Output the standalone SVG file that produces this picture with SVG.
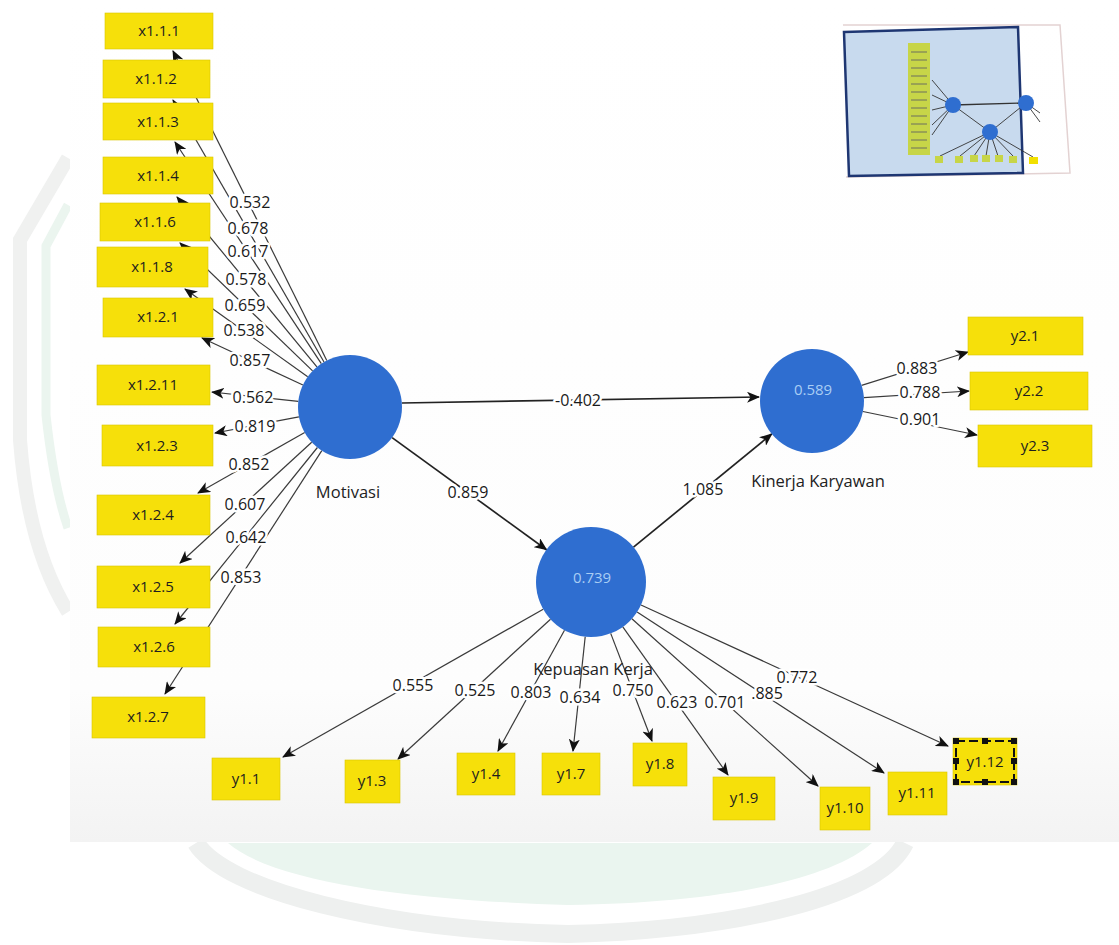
<svg xmlns="http://www.w3.org/2000/svg" width="1119" height="945" viewBox="0 0 1119 945">
<style>
.box{fill:#f6e00a;stroke:#d9c500;stroke-width:0.6}
.bt{font-family:"Open Sans","Noto Sans",sans-serif;font-size:15px;fill:#1e1e1e;text-anchor:middle}
.lat{fill:#2f6ed0}
.lv{font-family:"Open Sans","Noto Sans",sans-serif;font-size:15px;fill:#a9cdf4;text-anchor:middle}
.nl{font-family:"Open Sans","Noto Sans",sans-serif;font-size:16.5px;fill:#222;text-anchor:middle}
.ln{stroke:#3a3a3a;stroke-width:1.2;fill:none}
.lp{stroke:#222;stroke-width:1.7;fill:none}
.pl{font-family:"Open Sans","Noto Sans",sans-serif;font-size:16px;fill:#1a1a1a;text-anchor:middle;stroke:#fff;stroke-width:5px;paint-order:stroke;stroke-linejoin:round}
</style>
<defs>
<marker id="ah" markerWidth="13" markerHeight="11" refX="12" refY="5.5" orient="auto" markerUnits="userSpaceOnUse">
<path d="M0,0 L13,5.5 L0,11 L3.5,5.5 Z" fill="#111"/>
</marker>
<linearGradient id="scan" x1="0" y1="0" x2="0" y2="1">
<stop offset="0" stop-color="#ffffff"/>
<stop offset="0.82" stop-color="#fdfdfd"/>
<stop offset="1" stop-color="#f3f3f3"/>
</linearGradient>
</defs>
<rect x="0" y="0" width="1119" height="945" fill="#ffffff"/>
<g id="watermark">
<path d="M228,843 C270,880 400,900 568,905 C720,903 830,880 872,843 Z" fill="#eaf5ef"/>
<path d="M196,843 C225,890 380,930 568,934 C740,930 880,895 905,843" fill="none" stroke="#eef0ef" stroke-width="18"/>
<path d="M68,158 L20,240 L20,440 C26,520 45,575 68,612" fill="none" stroke="#f0f1f0" stroke-width="14"/>
<path d="M68,205 L46,246 L46,415 C52,470 60,505 68,528" fill="none" stroke="#ebf5ef" stroke-width="9"/>
</g>
<rect x="70" y="0" width="1049" height="842" fill="url(#scan)"/>
<g id="overview">
<path d="M843,25 L1060,25 L1070,173 L846,177" fill="none" stroke="#e3d2d2" stroke-width="1.5"/>
<path d="M844,32 L1018,27 L1023,173 L849,176 Z" fill="#c8daee" stroke="#1e3672" stroke-width="2.5"/>
<rect x="908" y="43" width="22" height="112" fill="#c7d548"/>
<g stroke="#556" stroke-width="0.8">
<line x1="911" y1="52" x2="927" y2="52"/><line x1="911" y1="60" x2="927" y2="60"/><line x1="911" y1="68" x2="927" y2="68"/><line x1="911" y1="76" x2="927" y2="76"/><line x1="911" y1="84" x2="927" y2="84"/><line x1="911" y1="92" x2="927" y2="92"/><line x1="911" y1="100" x2="927" y2="100"/><line x1="911" y1="108" x2="927" y2="108"/><line x1="911" y1="116" x2="927" y2="116"/><line x1="911" y1="124" x2="927" y2="124"/><line x1="911" y1="132" x2="927" y2="132"/><line x1="911" y1="140" x2="927" y2="140"/><line x1="911" y1="148" x2="927" y2="148"/>
</g>
<g stroke="#333" stroke-width="0.9">
<line x1="953" y1="105" x2="932" y2="80"/><line x1="953" y1="105" x2="932" y2="95"/><line x1="953" y1="105" x2="932" y2="110"/><line x1="953" y1="105" x2="932" y2="125"/><line x1="953" y1="105" x2="932" y2="135"/>
<line x1="953" y1="105" x2="1026" y2="103" stroke-width="1.3"/><line x1="953" y1="105" x2="990" y2="132"/><line x1="990" y1="132" x2="1026" y2="103"/>
<line x1="990" y1="132" x2="940" y2="156"/><line x1="990" y1="132" x2="960" y2="156"/><line x1="990" y1="132" x2="974" y2="156"/><line x1="990" y1="132" x2="986" y2="156"/><line x1="990" y1="132" x2="998" y2="156"/><line x1="990" y1="132" x2="1013" y2="156"/><line x1="990" y1="132" x2="1033" y2="157"/>
<line x1="1026" y1="103" x2="1040" y2="113"/><line x1="1026" y1="103" x2="1040" y2="122"/>
</g>
<g fill="#c7d548"><rect x="935" y="156" width="8" height="7"/><rect x="955" y="156" width="8" height="7"/><rect x="970" y="155" width="8" height="7"/><rect x="982" y="155" width="8" height="7"/><rect x="995" y="155" width="8" height="7"/><rect x="1009" y="156" width="8" height="7"/></g>
<rect x="1029" y="157" width="9" height="7" fill="#f2e000"/>
<circle cx="953" cy="105" r="8" fill="#2f6ed0"/><circle cx="1026" cy="103" r="8" fill="#2f6ed0"/><circle cx="990" cy="132" r="8" fill="#2f6ed0"/>
</g>
<g id="connectors">
<line class="ln" x1="326.8" y1="360.4" x2="173" y2="51" marker-end="url(#ah)"/>
<line class="ln" x1="324.0" y1="362.0" x2="173" y2="100" marker-end="url(#ah)"/>
<line class="ln" x1="321.3" y1="363.6" x2="175" y2="142" marker-end="url(#ah)"/>
<line class="ln" x1="316.9" y1="366.9" x2="177" y2="197" marker-end="url(#ah)"/>
<line class="ln" x1="312.6" y1="370.9" x2="180" y2="243" marker-end="url(#ah)"/>
<line class="ln" x1="307.7" y1="376.8" x2="185" y2="289" marker-end="url(#ah)"/>
<line class="ln" x1="302.9" y1="385.0" x2="202" y2="338" marker-end="url(#ah)"/>
<line class="ln" x1="298.3" y1="401.4" x2="212" y2="392" marker-end="url(#ah)"/>
<line class="ln" x1="298.9" y1="416.8" x2="215" y2="433" marker-end="url(#ah)"/>
<line class="ln" x1="304.7" y1="432.6" x2="198" y2="493" marker-end="url(#ah)"/>
<line class="ln" x1="311.7" y1="442.2" x2="180" y2="563" marker-end="url(#ah)"/>
<line class="ln" x1="317.4" y1="447.5" x2="175" y2="624" marker-end="url(#ah)"/>
<line class="ln" x1="321.8" y1="450.7" x2="165" y2="694" marker-end="url(#ah)"/>
<line class="lp" x1="402" y1="403" x2="759" y2="397" marker-end="url(#ah)"/>
<line class="lp" x1="392.1" y1="437.6" x2="546.5" y2="549.7" marker-end="url(#ah)"/>
<line class="lp" x1="633.5" y1="547.2" x2="771.8" y2="433.9" marker-end="url(#ah)"/>
<line class="ln" x1="861.6" y1="385.4" x2="968" y2="352" marker-end="url(#ah)"/>
<line class="ln" x1="863.9" y1="397.7" x2="969" y2="391" marker-end="url(#ah)"/>
<line class="ln" x1="862.9" y1="411.5" x2="977" y2="435" marker-end="url(#ah)"/>
<line class="ln" x1="543.2" y1="609.2" x2="283" y2="757" marker-end="url(#ah)"/>
<line class="ln" x1="550.5" y1="619.2" x2="398" y2="759" marker-end="url(#ah)"/>
<line class="ln" x1="564.5" y1="630.2" x2="498" y2="751" marker-end="url(#ah)"/>
<line class="ln" x1="585.2" y1="636.7" x2="573" y2="751" marker-end="url(#ah)"/>
<line class="ln" x1="610.7" y1="633.4" x2="652" y2="741" marker-end="url(#ah)"/>
<line class="ln" x1="622.8" y1="626.8" x2="728" y2="775" marker-end="url(#ah)"/>
<line class="ln" x1="631.9" y1="618.8" x2="818" y2="786" marker-end="url(#ah)"/>
<line class="ln" x1="637.1" y1="612.0" x2="884" y2="773" marker-end="url(#ah)"/>
<line class="ln" x1="641.0" y1="605.0" x2="948" y2="746" marker-end="url(#ah)"/>
<text class="pl" x="250" y="208">0.532</text>
<text class="pl" x="248" y="234">0.678</text>
<text class="pl" x="248" y="257">0.617</text>
<text class="pl" x="246" y="285">0.578</text>
<text class="pl" x="245" y="311">0.659</text>
<text class="pl" x="244" y="336">0.538</text>
<text class="pl" x="250" y="366">0.857</text>
<text class="pl" x="253" y="403">0.562</text>
<text class="pl" x="255" y="432">0.819</text>
<text class="pl" x="249" y="470">0.852</text>
<text class="pl" x="245" y="510">0.607</text>
<text class="pl" x="246" y="543">0.642</text>
<text class="pl" x="241" y="583">0.853</text>
<text class="pl" x="578" y="406">-0.402</text>
<text class="pl" x="468" y="498">0.859</text>
<text class="pl" x="703" y="495">1.085</text>
<text class="pl" x="917" y="374">0.883</text>
<text class="pl" x="920" y="398">0.788</text>
<text class="pl" x="920" y="425">0.901</text>
<text class="pl" x="413" y="691">0.555</text>
<text class="pl" x="475" y="696">0.525</text>
<text class="pl" x="531" y="698">0.803</text>
<text class="pl" x="580" y="703">0.634</text>
<text class="pl" x="633" y="696">0.750</text>
<text class="pl" x="677" y="708">0.623</text>
<text class="pl" x="725" y="708">0.701</text>
<text class="pl" x="767" y="699">.885</text>
<text class="pl" x="797" y="683">0.772</text>
</g>
<g id="n-x111"><rect class="box" x="105" y="13" width="108" height="36"/><text class="bt" x="159" y="36">x1.1.1</text></g>
<g id="n-x112"><rect class="box" x="103" y="60" width="107" height="38"/><text class="bt" x="156" y="84">x1.1.2</text></g>
<g id="n-x113"><rect class="box" x="103" y="103" width="110" height="37"/><text class="bt" x="158" y="127">x1.1.3</text></g>
<g id="n-x114"><rect class="box" x="103" y="157" width="110" height="37"/><text class="bt" x="158" y="181">x1.1.4</text></g>
<g id="n-x116"><rect class="box" x="100" y="203" width="110" height="38"/><text class="bt" x="155" y="227">x1.1.6</text></g>
<g id="n-x118"><rect class="box" x="97" y="247" width="111" height="40"/><text class="bt" x="152" y="272">x1.1.8</text></g>
<g id="n-x121"><rect class="box" x="103" y="298" width="110" height="39"/><text class="bt" x="158" y="322">x1.2.1</text></g>
<g id="n-x1211"><rect class="box" x="97" y="365" width="113" height="40"/><text class="bt" x="153" y="390">x1.2.11</text></g>
<g id="n-x123"><rect class="box" x="102" y="425" width="111" height="41"/><text class="bt" x="157" y="451">x1.2.3</text></g>
<g id="n-x124"><rect class="box" x="97" y="495" width="113" height="40"/><text class="bt" x="153" y="520">x1.2.4</text></g>
<g id="n-x125"><rect class="box" x="97" y="566" width="113" height="42"/><text class="bt" x="153" y="592">x1.2.5</text></g>
<g id="n-x126"><rect class="box" x="98" y="627" width="112" height="40"/><text class="bt" x="154" y="652">x1.2.6</text></g>
<g id="n-x127"><rect class="box" x="92" y="697" width="113" height="41"/><text class="bt" x="148" y="722">x1.2.7</text></g>
<g id="n-motivasi"><circle class="lat" cx="350" cy="407" r="52"/><text class="nl" x="348" y="498">Motivasi</text></g>
<g id="n-kinerja"><circle class="lat" cx="812" cy="401" r="52"/><text class="lv" x="813" y="395">0.589</text><text class="nl" x="818" y="487">Kinerja Karyawan</text></g>
<g id="n-kepuasan"><circle class="lat" cx="591" cy="582" r="55"/><text class="lv" x="592" y="583">0.739</text><text class="nl" x="593" y="675">Kepuasan Kerja</text></g>
<g id="n-y21"><rect class="box" x="968" y="317" width="115" height="38"/><text class="bt" x="1025" y="341">y2.1</text></g>
<g id="n-y22"><rect class="box" x="970" y="372" width="118" height="38"/><text class="bt" x="1029" y="396">y2.2</text></g>
<g id="n-y23"><rect class="box" x="978" y="425" width="114" height="42"/><text class="bt" x="1035" y="451">y2.3</text></g>
<g id="n-y11"><rect class="box" x="212" y="758" width="68" height="42"/><text class="bt" x="246" y="784">y1.1</text></g>
<g id="n-y13"><rect class="box" x="345" y="760" width="55" height="43"/><text class="bt" x="372" y="786">y1.3</text></g>
<g id="n-y14"><rect class="box" x="457" y="753" width="58" height="42"/><text class="bt" x="486" y="779">y1.4</text></g>
<g id="n-y17"><rect class="box" x="542" y="753" width="58" height="42"/><text class="bt" x="571" y="779">y1.7</text></g>
<g id="n-y18"><rect class="box" x="633" y="743" width="54" height="43"/><text class="bt" x="660" y="769">y1.8</text></g>
<g id="n-y19"><rect class="box" x="713" y="777" width="62" height="43"/><text class="bt" x="744" y="803">y1.9</text></g>
<g id="n-y110"><rect class="box" x="820" y="787" width="50" height="43"/><text class="bt" x="845" y="813">y1.10</text></g>
<g id="n-y111"><rect class="box" x="888" y="772" width="59" height="43"/><text class="bt" x="917" y="798">y1.11</text></g>
<g id="n-y112"><rect class="box" x="953" y="738" width="64" height="47" stroke="none"/><rect x="956" y="741" width="58" height="41" fill="none" stroke="#111" stroke-width="2" stroke-dasharray="9,4"/><g fill="#111"><rect x="953" y="738" width="6" height="6"/><rect x="982" y="738" width="6" height="6"/><rect x="1011" y="738" width="6" height="6"/><rect x="953" y="758" width="6" height="6"/><rect x="1011" y="758" width="6" height="6"/><rect x="953" y="779" width="6" height="6"/><rect x="982" y="779" width="6" height="6"/><rect x="1011" y="779" width="6" height="6"/></g><text class="bt" x="985" y="767">y1.12</text></g>
</svg>
